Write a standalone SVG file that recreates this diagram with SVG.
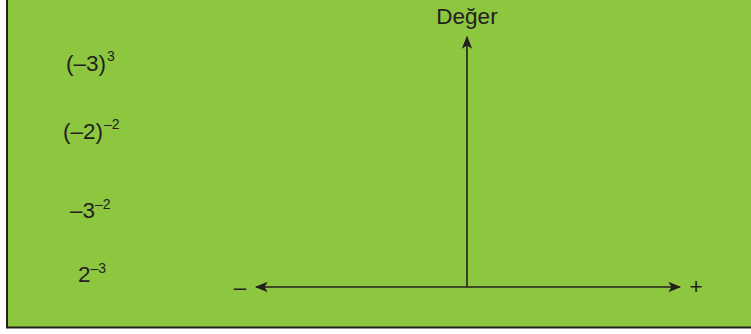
<svg xmlns="http://www.w3.org/2000/svg" width="751" height="334" viewBox="0 0 751 334">
<style>
.t{font-family:"Liberation Sans",Arial,sans-serif;font-size:22.5px;fill:#231f20}
.s{font-size:14px}
.ax{stroke:#231f20;stroke-width:1.6;fill:none}
</style>
<defs>
<marker id="ah" viewBox="0 0 10 10" refX="9" refY="5" markerWidth="13" markerHeight="13" markerUnits="userSpaceOnUse" orient="auto">
<path d="M0,1 L10,5 L0,9 L2.5,5 Z" fill="#231f20"/>
</marker>
</defs>
<rect x="0" y="0" width="751" height="334" fill="#ffffff"/>
<rect x="6" y="0" width="745" height="328" fill="#8dc63f"/>
<path d="M7,0 V327.5 H751" stroke="#231f20" stroke-width="2" fill="none"/>
<g id="connectors">
<line class="ax" x1="467" y1="287" x2="467" y2="37" marker-end="url(#ah)"/>
<line class="ax" x1="467" y1="287" x2="256" y2="287" marker-end="url(#ah)"/>
<line class="ax" x1="467" y1="287" x2="680" y2="287" marker-end="url(#ah)"/>
</g>
<g id="deger"><text class="t" x="467" y="24" text-anchor="middle">Değer</text></g>
<g id="minus"><text class="t" x="240" y="295" text-anchor="middle">–</text></g>
<g id="plus"><text class="t" x="696" y="294" text-anchor="middle">+</text></g>
<g id="e1"><text class="t" x="66" y="71">(–3)<tspan class="s" dx="1" dy="-10">3</tspan></text></g>
<g id="e2"><text class="t" x="63" y="139">(–2)<tspan class="s" dx="1" dy="-10">–2</tspan></text></g>
<g id="e3"><text class="t" x="70" y="218">–3<tspan class="s" dy="-9">–2</tspan></text></g>
<g id="e4"><text class="t" x="78" y="282">2<tspan class="s" dy="-9">–3</tspan></text></g>
</svg>
